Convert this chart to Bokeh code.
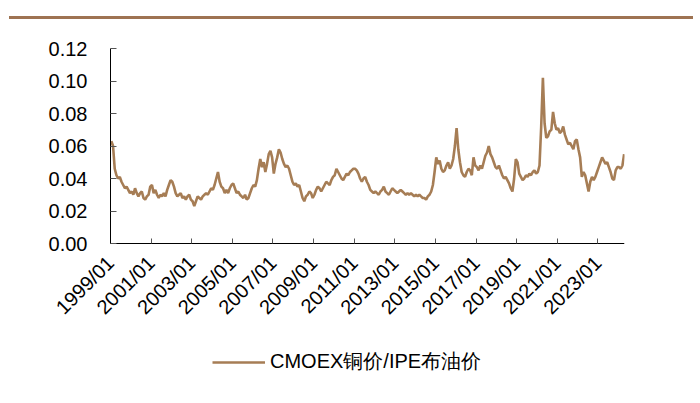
import math
from bokeh.plotting import figure
from bokeh.models import (FixedTicker, NumeralTickFormatter, Legend, LegendItem,
                          Div, ColumnDataSource, Range1d, LinearAxis)
from bokeh.layouts import column
from bokeh.embed import file_html
from bokeh.resources import INLINE

series_name = "CMOEX铜价/IPE布油价"
start_year = 1999
start_month = 1

# monthly ratio values, 1999/01 .. 2024/04
ratio = [
    0.063, 0.060, 0.046, 0.042, 0.040, 0.041, 0.038, 0.036, 0.034, 0.035, 0.033, 0.031,  # 1999
    0.032, 0.030, 0.034, 0.031, 0.029, 0.031, 0.032, 0.028, 0.027, 0.029, 0.030, 0.035,  # 2000
    0.036, 0.031, 0.033, 0.030, 0.028, 0.030, 0.029, 0.031, 0.029, 0.033, 0.036, 0.039,  # 2001
    0.038, 0.035, 0.031, 0.029, 0.030, 0.031, 0.028, 0.029, 0.027, 0.029, 0.030, 0.027,  # 2002
    0.026, 0.023, 0.026, 0.029, 0.028, 0.027, 0.029, 0.030, 0.031, 0.030, 0.032, 0.034,  # 2003
    0.033, 0.036, 0.040, 0.044, 0.038, 0.035, 0.034, 0.031, 0.033, 0.031, 0.034, 0.036,  # 2004
    0.037, 0.034, 0.031, 0.032, 0.030, 0.029, 0.028, 0.030, 0.027, 0.028, 0.031, 0.034,  # 2005
    0.036, 0.035, 0.039, 0.046, 0.052, 0.047, 0.050, 0.044, 0.049, 0.055, 0.057, 0.053,  # 2006
    0.043, 0.049, 0.053, 0.058, 0.056, 0.052, 0.049, 0.047, 0.048, 0.046, 0.042, 0.038,  # 2007
    0.036, 0.037, 0.035, 0.036, 0.032, 0.028, 0.026, 0.029, 0.030, 0.032, 0.031, 0.028,  # 2008
    0.030, 0.033, 0.035, 0.034, 0.032, 0.034, 0.036, 0.038, 0.037, 0.036, 0.039, 0.041,  # 2009
    0.042, 0.046, 0.044, 0.042, 0.040, 0.039, 0.041, 0.043, 0.042, 0.044, 0.045, 0.046,  # 2010
    0.046, 0.045, 0.043, 0.040, 0.038, 0.040, 0.041, 0.038, 0.036, 0.033, 0.032, 0.031,  # 2011
    0.032, 0.031, 0.030, 0.032, 0.033, 0.035, 0.032, 0.031, 0.030, 0.032, 0.034, 0.033,  # 2012
    0.032, 0.031, 0.032, 0.033, 0.032, 0.031, 0.030, 0.031, 0.030, 0.031, 0.030, 0.029,  # 2013
    0.030, 0.029, 0.030, 0.029, 0.028, 0.028, 0.027, 0.029, 0.030, 0.032, 0.036, 0.044,  # 2014
    0.053, 0.049, 0.051, 0.046, 0.044, 0.045, 0.048, 0.050, 0.046, 0.048, 0.052, 0.060,  # 2015
    0.071, 0.058, 0.050, 0.044, 0.042, 0.041, 0.044, 0.046, 0.045, 0.042, 0.053, 0.048,  # 2016
    0.047, 0.045, 0.048, 0.046, 0.050, 0.054, 0.056, 0.060, 0.055, 0.053, 0.050, 0.047,  # 2017
    0.046, 0.048, 0.045, 0.042, 0.040, 0.041, 0.039, 0.037, 0.034, 0.032, 0.040, 0.052,  # 2018
    0.050, 0.043, 0.041, 0.039, 0.040, 0.042, 0.041, 0.043, 0.042, 0.044, 0.045, 0.043,  # 2019
    0.044, 0.048, 0.072, 0.102, 0.074, 0.065, 0.066, 0.069, 0.070, 0.081, 0.074, 0.070,  # 2020
    0.071, 0.068, 0.069, 0.072, 0.067, 0.064, 0.061, 0.062, 0.060, 0.058, 0.063, 0.064,  # 2021
    0.058, 0.053, 0.041, 0.044, 0.042, 0.037, 0.032, 0.038, 0.041, 0.039, 0.041, 0.044,  # 2022
    0.047, 0.050, 0.053, 0.051, 0.049, 0.050, 0.047, 0.044, 0.040, 0.039, 0.045, 0.047,  # 2023
    0.047, 0.046, 0.048, 0.055,                                                          # 2024
]

tick_labels = ["1999/01", "2001/01", "2003/01", "2005/01", "2007/01", "2009/01",
               "2011/01", "2013/01", "2015/01", "2017/01", "2019/01", "2021/01", "2023/01"]
y_ticks = [0.00, 0.02, 0.04, 0.06, 0.08, 0.10, 0.12]

x_axis_start = 1999.0
x_end = 2024.31

# layout (pixels)
FIG_W = 692
FIG_H = 376
TOP = 10            # frame top offset inside figure
PAD_ABOVE = 19      # space inside frame above the top tick
BOTTOM = 3          # frame bottom border
AXIS_PX = 195       # height of the 0..0.12 value band
FRAME_LEFT = 10     # frame starts here; y axis drawn further right
Y_AXIS_PX = 110     # pixel position of the y axis
FRAME_RIGHT = 624   # frame right edge

frame_h = FIG_H - TOP - BOTTOM
y_top = y_ticks[-1]
y_range_top = y_top + y_top * PAD_ABOVE / AXIS_PX
y_range_bottom = -y_top * (frame_h - AXIS_PX - PAD_ABOVE) / AXIS_PX
px_per_year = (FRAME_RIGHT - Y_AXIS_PX) / (x_end - x_axis_start)
x_start = x_axis_start - (Y_AXIS_PX - FRAME_LEFT) / px_per_year

# x positions as fractional years (mid-month)
xs = []
for i in range(len(ratio)):
    k = start_month - 1 + i
    xs.append(start_year + (k // 12) + ((k % 12) + 0.5) / 12.0)

src = ColumnDataSource(dict(x=xs, y=ratio))

tick_pos = []
overrides = {}
for lab in tick_labels:
    yy, mm = lab.split("/")
    v = int(yy) + (int(mm) - 1) / 12.0
    tick_pos.append(v)
    overrides[v] = lab

FONT = "Liberation Sans"
LINE_COLOR = "#A67D55"
TICK_FS = "20px"

p = figure(width=FIG_W, height=FIG_H, output_backend="svg", toolbar_location=None,
           x_range=Range1d(x_start, x_end), y_range=Range1d(y_range_bottom, y_range_top),
           x_axis_location=None, y_axis_location=None,
           min_border_left=FRAME_LEFT, min_border_right=FIG_W - FRAME_RIGHT,
           min_border_top=TOP, min_border_bottom=BOTTOM)
p.outline_line_color = None
p.xgrid.visible = False
p.ygrid.visible = False
p.background_fill_color = "white"
p.border_fill_color = "white"

r = p.line("x", "y", source=src, line_color=LINE_COLOR, line_width=2.6)

# y axis drawn at x = 1999/01
ya = LinearAxis(fixed_location=x_axis_start)
ya.ticker = FixedTicker(ticks=y_ticks)
ya.bounds = (0, y_top)
ya.formatter = NumeralTickFormatter(format="0.00")
ya.major_tick_in = 6
ya.major_tick_out = 0
ya.minor_tick_in = 0
ya.minor_tick_out = 0
ya.axis_line_color = "#000000"
ya.major_tick_line_color = "#555555"
ya.major_label_standoff = 23
ya.major_label_text_font = FONT
ya.major_label_text_font_size = TICK_FS
ya.major_label_text_color = "#000000"
p.add_layout(ya, "left")

# x axis drawn at y = 0
xa = LinearAxis(fixed_location=0)
xa.ticker = FixedTicker(ticks=tick_pos)
xa.bounds = (x_axis_start, x_end)
xa.major_label_overrides = overrides
xa.major_label_orientation = math.pi / 4
xa.major_tick_in = 5
xa.major_tick_out = 0
xa.minor_tick_in = 0
xa.minor_tick_out = 0
xa.axis_line_color = "#000000"
xa.major_tick_line_color = "#555555"
xa.major_label_standoff = 16
xa.major_label_text_font = FONT
xa.major_label_text_font_size = TICK_FS
xa.major_label_text_color = "#000000"
p.add_layout(xa, "below")

legend = Legend(items=[LegendItem(label=series_name, renderers=[r])],
                location=(212 - FRAME_LEFT, 17), orientation="horizontal",
                glyph_width=53, glyph_height=20, label_standoff=5,
                padding=0, margin=0, spacing=0,
                border_line_color=None, background_fill_alpha=0,
                label_text_font=FONT, label_text_font_size="20px",
                label_text_color="#000000")
p.add_layout(legend, "center")

top_rule = Div(text="", width=684, height=3, margin=(16, 0, 0, 9),
               styles={"background-color": "#9E7352"})

layout = column(top_rule, p, spacing=0)

open("out.html", "w").write(file_html(layout, INLINE))
